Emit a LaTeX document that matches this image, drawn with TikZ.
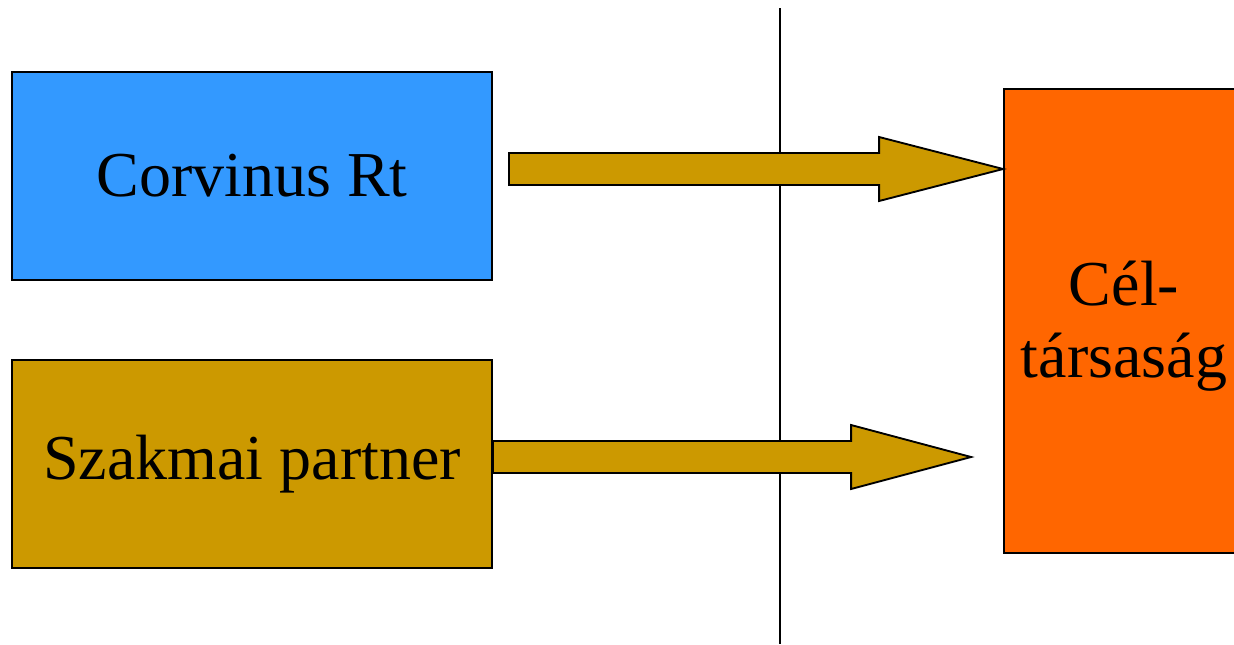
\documentclass[tikz,border=0pt]{standalone}
\usepackage{fontspec}
\setmainfont{Liberation Serif}
\usetikzlibrary{calc}

\definecolor{corvblue}{RGB}{51,153,255}
\definecolor{partnergold}{RGB}{204,153,0}
\definecolor{targetorange}{RGB}{255,102,0}

\tikzset{every picture/.style={line width=0.75pt}}
\tikzset{
	box/.style={draw, line width=1.4pt, inner sep=0pt, minimum width=360pt, minimum height=156pt, font=\fontsize{48}{54}\selectfont},
	arrowbody/.style={draw, fill=partnergold, line width=1.4pt, line join=miter}}

% block arrow from #2 (tail) to #3 (tip), head length #1
\newcommand{\blockarrow}[3][124]{%
	\draw[arrowbody] ($(#2)+(0,-16)$) -| ($(#3)+(-#1,-32)$) -- (#3) -- ($(#3)+(-#1,32)$) |- ($(#2)+(0,16)$) -- cycle ;}

\begin{document}
\begin{tikzpicture}[x=0.75pt,y=0.75pt,yscale=-1,xscale=1]
	\useasboundingbox (0,0) rectangle (1234,644);

	%Straight Lines
	\draw [line width=1.2pt] (780,8) -- (780,644) ;

	%Shape: Rectangle
	\node [box, fill=corvblue] (corvinus) at (252,176) {Corvinus Rt};
	%Shape: Rectangle
	\node [box, fill=partnergold] (partner) at (252,464) {Szakmai partner};
	%Shape: Rectangle
	\node [box, fill=targetorange, minimum width=180pt, minimum height=348pt] (cel) at (1124,321) {};

	% Text Node
	\node [font=\fontsize{48}{54}\selectfont, align=center] (celtext) at ($(cel.center)+(0,5)$) {Cél-\\társaság};

	%Block Arrows
	\coordinate (s1) at ($(corvinus.east)+(16,-7)$);
	\coordinate (t1) at (cel.west |- s1);
	\coordinate (s2) at ($(partner.east)+(0,-7)$);
	\coordinate (t2) at ($(cel.west |- s2)+(-32,0)$);
	\blockarrow{s1}{t1}
	\blockarrow[120]{s2}{t2}

\end{tikzpicture}
\end{document}
